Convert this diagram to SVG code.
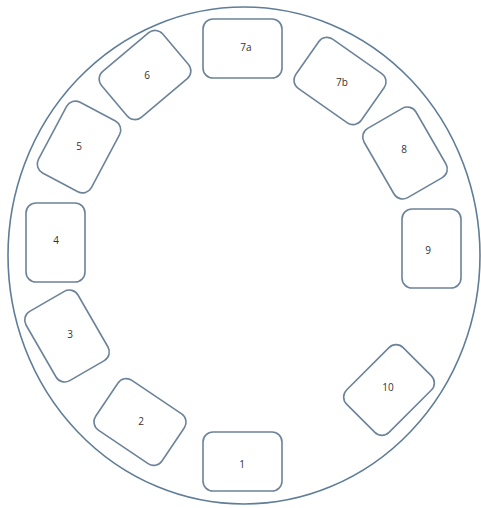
<svg xmlns="http://www.w3.org/2000/svg" width="481" height="508" viewBox="0 0 481 508">
<style>
.ring{fill:none;stroke:#5f7d97;stroke-width:1.6}
.box{fill:#fff;stroke:#6c8399;stroke-width:1.6}
.lbl{font-family:"Open Sans","Liberation Sans",sans-serif;font-size:10px;fill:#333;text-anchor:middle;dominant-baseline:central}
</style>
<rect width="481" height="508" fill="#fff"/>
<ellipse class="ring" cx="244" cy="255.5" rx="236" ry="248.5"/>
<g id="connectors"></g>
<g id="n7a"><rect class="box" x="203" y="19" width="79" height="59" rx="10"/><text class="lbl" x="246" y="47">7a</text></g>
<g id="n7b"><rect class="box" x="-40" y="-30" width="80" height="60" rx="10" transform="translate(340,81) rotate(35)"/><text class="lbl" x="342" y="82">7b</text></g>
<g id="n8"><rect class="box" x="-30" y="-40" width="60" height="80" rx="10" transform="translate(405,153) rotate(-30)"/><text class="lbl" x="404" y="149">8</text></g>
<g id="n9"><rect class="box" x="402" y="209" width="59" height="79" rx="10"/><text class="lbl" x="428" y="250">9</text></g>
<g id="n10"><rect class="box" x="-40" y="-30" width="80" height="60" rx="10" transform="translate(389,390) rotate(-45)"/><text class="lbl" x="388" y="387">10</text></g>
<g id="n1"><rect class="box" x="203" y="432" width="79" height="59" rx="10"/><text class="lbl" x="242" y="464">1</text></g>
<g id="n2"><rect class="box" x="-40" y="-30" width="80" height="60" rx="10" transform="translate(140,422) rotate(34)"/><text class="lbl" x="141" y="421">2</text></g>
<g id="n3"><rect class="box" x="-30" y="-40" width="60" height="80" rx="10" transform="translate(67,336) rotate(-30)"/><text class="lbl" x="70" y="334">3</text></g>
<g id="n4"><rect class="box" x="26" y="203" width="59" height="79" rx="10"/><text class="lbl" x="56" y="240">4</text></g>
<g id="n5"><rect class="box" x="-30" y="-40" width="60" height="80" rx="10" transform="translate(79,147) rotate(28)"/><text class="lbl" x="79" y="146">5</text></g>
<g id="n6"><rect class="box" x="-40" y="-30" width="80" height="60" rx="10" transform="translate(145,75) rotate(-40)"/><text class="lbl" x="147" y="75">6</text></g>
</svg>
